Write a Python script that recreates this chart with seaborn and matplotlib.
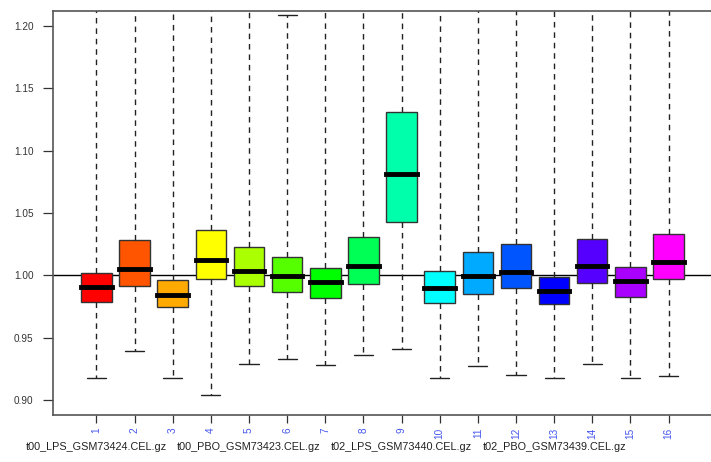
import numpy as np
import pandas as pd
import matplotlib
matplotlib.use("Agg")
import matplotlib.pyplot as plt
import seaborn as sns

# NUSE-style boxplot, one box per array
arrays = [str(i) for i in range(1, 17)]
lower = [0.918, 0.939, 0.918, 0.904, 0.929, 0.933, 0.928, 0.936,
         0.941, 0.918, 0.927, 0.920, 0.918, 0.929, 0.918, 0.919]
q1 = [0.979, 0.9915, 0.9744, 0.9968, 0.9915, 0.987, 0.9816, 0.9933,
      1.0424, 0.978, 0.9853, 0.9899, 0.977, 0.9941, 0.9824, 0.9968]
median = [0.9907, 1.0053, 0.984, 1.0125, 1.0035, 0.9997, 0.9947, 1.0077,
          1.081, 0.9899, 0.9997, 1.0024, 0.9875, 1.0075, 0.9952, 1.011]
q3 = [1.0021, 1.0283, 0.996, 1.0365, 1.023, 1.015, 1.0059, 1.031,
      1.1312, 1.0032, 1.019, 1.025, 0.9987, 1.029, 1.007, 1.033]
upper = [1.26, 1.26, 1.26, 1.26, 1.26, 1.209, 1.26, 1.26,
         1.26, 1.26, 1.26, 1.26, 1.26, 1.26, 1.26, 1.26]

colors = ["#FF0000", "#FF5500", "#FFAA00", "#FFFF00", "#AAFF00", "#55FF00",
          "#00FF00", "#00FF55", "#00FFAA", "#00FFFF", "#00AAFF", "#0055FF",
          "#0000FF", "#5500FF", "#AA00FF", "#FF00FF"]

sample_names = ["t00_LPS_GSM73424.CEL.gz", "t00_PBO_GSM73423.CEL.gz",
                "t02_LPS_GSM73440.CEL.gz", "t02_PBO_GSM73439.CEL.gz"]
name_at = ["1", "5", "9", "13"]
yticks = [0.90, 0.95, 1.00, 1.05, 1.10, 1.15, 1.20]
ref_level = 1.0

# five-number summary per array -> long table
rows = []
for a, lo, b1, m, b3, hi in zip(arrays, lower, q1, median, q3, upper):
    for v in (lo, b1, m, b3, hi):
        rows.append({"array": a, "nuse": v})
df = pd.DataFrame(rows)

sns.set_style("white")
plt.rcParams["font.family"] = ["Liberation Sans", "DejaVu Sans"]

fig = plt.figure(figsize=(7.11, 4.62), dpi=100)
ax = fig.add_axes([0.0745, 0.1017, 0.9269, 0.8745])

sns.boxplot(data=df, x="array", y="nuse", hue="array", order=arrays,
            palette=colors, legend=False, saturation=1, whis=(0, 100),
            width=0.8, linecolor="#333333", linewidth=1.0, capwidths=0.5,
            medianprops=dict(color="black", linewidth=3.5, solid_capstyle="projecting"),
            whiskerprops=dict(color="#222222", linestyle=(0, (4, 3.5))),
            capprops=dict(color="#222222"),
            ax=ax)

ax.axhline(ref_level, color="black", lw=1.0, zorder=1)

ax.set_xlim(-1.14, 16.14)
ax.set_ylim(0.888, 1.212)
ax.set_yticks(yticks)
ax.set_yticklabels([f"{t:.2f}" for t in yticks])
ax.set_xlabel("")
ax.set_ylabel("")

ax.tick_params(axis="y", length=7, width=0.9, color="#333333",
               labelsize=7.2, labelcolor="#333333", pad=7, left=True)
ax.tick_params(axis="x", length=6, width=0.9, color="#333333",
               labelsize=7.2, labelcolor="#4455EE", pad=3, bottom=True,
               labelrotation=90)

for side in ["left", "top", "bottom", "right"]:
    ax.spines[side].set_color("#555555")
    ax.spines[side].set_linewidth(1.2)

for name, pos in zip(sample_names, name_at):
    ax.text(arrays.index(pos), -0.079, name, transform=ax.get_xaxis_transform(),
            ha="center", va="center", fontsize=7.8, color="#222222")

fig.savefig("out.png", dpi=100)
